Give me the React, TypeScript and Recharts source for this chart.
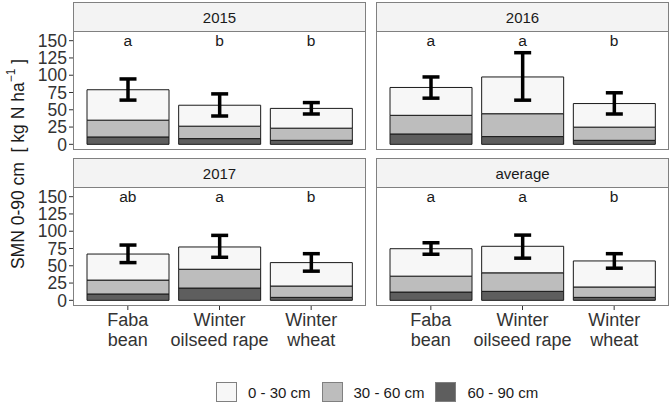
import React from 'react';
import { ComposedChart, Bar, ErrorBar, Scatter, XAxis, YAxis } from 'recharts';

const crops = ['Faba bean', 'Winter oilseed rape', 'Winter wheat'];
const panelTitles = ['2015', '2016', '2017', 'average'];

// SMN per soil layer, one row per panel (2015, 2016, 2017, average)
const soil60to90 = [
  [10.7, 8.3, 5.8],
  [15, 11.2, 5.8],
  [9.2, 17.8, 4.3],
  [12, 13, 4.3],
];
const soil30to60 = [
  [24.3, 18, 17.6],
  [27, 33.1, 19.1],
  [20.1, 27.2, 16.4],
  [23, 26.8, 15],
];
const soil0to30 = [
  [44, 30.3, 28.6],
  [40.3, 53.2, 34.1],
  [37.7, 32.2, 33.9],
  [39.7, 38.4, 37.7],
];
// error bar ends
const errLow = [
  [64, 41, 43.9],
  [66.8, 63.9, 43.9],
  [54.6, 62.3, 42.2],
  [66.7, 61, 46.5],
];
const errHigh = [
  [94.6, 73, 60.4],
  [97.5, 132.6, 74.6],
  [80, 94, 67.5],
  [83.3, 94.4, 67.5],
];
const letters = [
  ['a', 'b', 'b'],
  ['a', 'a', 'b'],
  ['ab', 'a', 'b'],
  ['a', 'a', 'b'],
];
const letterLevel = 150;
const yTicks = [0, 25, 50, 75, 100, 125, 150];

const FONT = '"Liberation Sans", Arial, sans-serif';
const COLORS = { top: '#f7f7f7', mid: '#bdbdbd', deep: '#5e5e5e' };
const BORDER = '#808080';
const PLOT_W = 293;
const PLOT_H = 119;
const Y_AXIS_W = 40;
const X_AXIS_H = 52;
const TOP_PAD = 10; // room below the upper panels so the "0" label is not clipped
const panelBox = [
  { left: 73, top: 31 },
  { left: 376, top: 31 },
  { left: 73, top: 187 },
  { left: 376, top: 187 },
];

const buildData = (p: number) =>
  crops.map((crop, i) => {
    const total = soil60to90[p][i] + soil30to60[p][i] + soil0to30[p][i];
    return {
      crop,
      deep: soil60to90[p][i],
      mid: soil30to60[p][i],
      top: soil0to30[p][i],
      err: [total - errLow[p][i], errHigh[p][i] - total],
      letterAt: letterLevel,
      letter: letters[p][i],
    };
  });

const CropTick = (props: any) => {
  const { x, y, payload } = props;
  const words = String(payload.value).split(' ');
  return (
    <text x={x} y={y} textAnchor="middle" fontSize={18} fill="#333" fontFamily={FONT}>
      <tspan x={x} dy={14}>{words[0]}</tspan>
      <tspan x={x} dy={20}>{words.slice(1).join(' ')}</tspan>
    </text>
  );
};

const LetterMark = (props: any) => (
  <text x={props.cx} y={props.cy + 5} textAnchor="middle" fontSize={15.5} fill="#1a1a1a" fontFamily={FONT}>
    {props.payload.letter}
  </text>
);

const Panel = ({ idx }: { idx: number }) => {
  const box = panelBox[idx];
  const showY = idx % 2 === 0;
  const showX = idx >= 2;
  const data = buildData(idx);
  const chartW = PLOT_W + (showY ? Y_AXIS_W : 0);
  const chartH = PLOT_H + (showX ? X_AXIS_H : TOP_PAD);
  return (
    <>
      <div
        style={{
          position: 'absolute', left: box.left, top: box.top - 29, width: PLOT_W, height: 30,
          boxSizing: 'border-box', border: `1px solid ${BORDER}`, background: '#f3f3f3',
          display: 'flex', alignItems: 'center', justifyContent: 'center',
          fontSize: 15, color: '#1a1a1a', fontFamily: FONT,
        }}
      >
        {panelTitles[idx]}
      </div>
      <div style={{ position: 'absolute', left: box.left - (showY ? Y_AXIS_W : 0), top: box.top }}>
        <ComposedChart
          width={chartW}
          height={chartH}
          data={data}
          margin={{ top: 0, right: 0, bottom: showX ? 0 : TOP_PAD, left: 0 }}
        >
          <XAxis
            dataKey="crop"
            hide={!showX}
            height={X_AXIS_H}
            padding={{ left: 9, right: 9 }}
            axisLine={false}
            tickLine={{ stroke: '#333' }}
            tickSize={4}
            interval={0}
            tick={<CropTick />}
          />
          <YAxis
            hide={!showY}
            width={Y_AXIS_W}
            type="number"
            domain={[-8.2, 164]}
            allowDataOverflow
            ticks={yTicks}
            interval={0}
            axisLine={false}
            tickLine={{ stroke: '#333' }}
            tickSize={4}
            tickMargin={2}
            tick={{ fontSize: 17.5, fill: '#333', fontFamily: FONT }}
          />
          <Bar dataKey="deep" stackId="s" fill={COLORS.deep} stroke="#1a1a1a" strokeWidth={1} barSize={82} isAnimationActive={false} />
          <Bar dataKey="mid" stackId="s" fill={COLORS.mid} stroke="#1a1a1a" strokeWidth={1} barSize={82} isAnimationActive={false} />
          <Bar dataKey="top" stackId="s" fill={COLORS.top} stroke="#1a1a1a" strokeWidth={1} barSize={82} isAnimationActive={false}>
            <ErrorBar dataKey="err" width={8.5} stroke="#000" strokeWidth={3.5} direction="y" />
          </Bar>
          <Scatter dataKey="letterAt" shape={<LetterMark />} isAnimationActive={false} />
        </ComposedChart>
      </div>
      <div
        style={{
          position: 'absolute', left: box.left, top: box.top, width: PLOT_W, height: PLOT_H,
          boxSizing: 'border-box', border: `1px solid ${BORDER}`, pointerEvents: 'none',
        }}
      />
    </>
  );
};

const legendItems = [
  { label: '0 - 30 cm', color: COLORS.top },
  { label: '30 - 60 cm', color: COLORS.mid },
  { label: '60 - 90 cm', color: COLORS.deep },
];

export default function App() {
  return (
    <div style={{ position: 'absolute', left: 0, top: 0, width: 671, height: 406, background: '#fff', fontFamily: FONT }}>
      <svg style={{ position: 'absolute', left: 0, top: 0 }} width={40} height={406}>
        <text
          x={18}
          y={164}
          transform="rotate(-90 18 164)"
          textAnchor="middle"
          dominantBaseline="central"
          fontSize={17.5}
          fill="#1a1a1a"
          fontFamily={FONT}
          style={{ whiteSpace: 'pre' }}
        >
          {'SMN 0-90 cm  [ kg N ha'}
          <tspan fontSize={12} dy={-7}>{'\u22121'}</tspan>
          <tspan dy={7}>{' ]'}</tspan>
        </text>
      </svg>
      {[0, 1, 2, 3].map((i) => (
        <Panel key={i} idx={i} />
      ))}
      <div style={{ position: 'absolute', left: 216, top: 382, display: 'flex', alignItems: 'center', fontSize: 15, color: '#1a1a1a' }}>
        {legendItems.map((it) => (
          <div key={it.label} style={{ display: 'flex', alignItems: 'center', marginRight: 11 }}>
            <div style={{ width: 21, height: 20, boxSizing: 'border-box', border: `1px solid ${BORDER}`, background: it.color }} />
            <span style={{ marginLeft: 11 }}>{it.label}</span>
          </div>
        ))}
      </div>
    </div>
  );
}
